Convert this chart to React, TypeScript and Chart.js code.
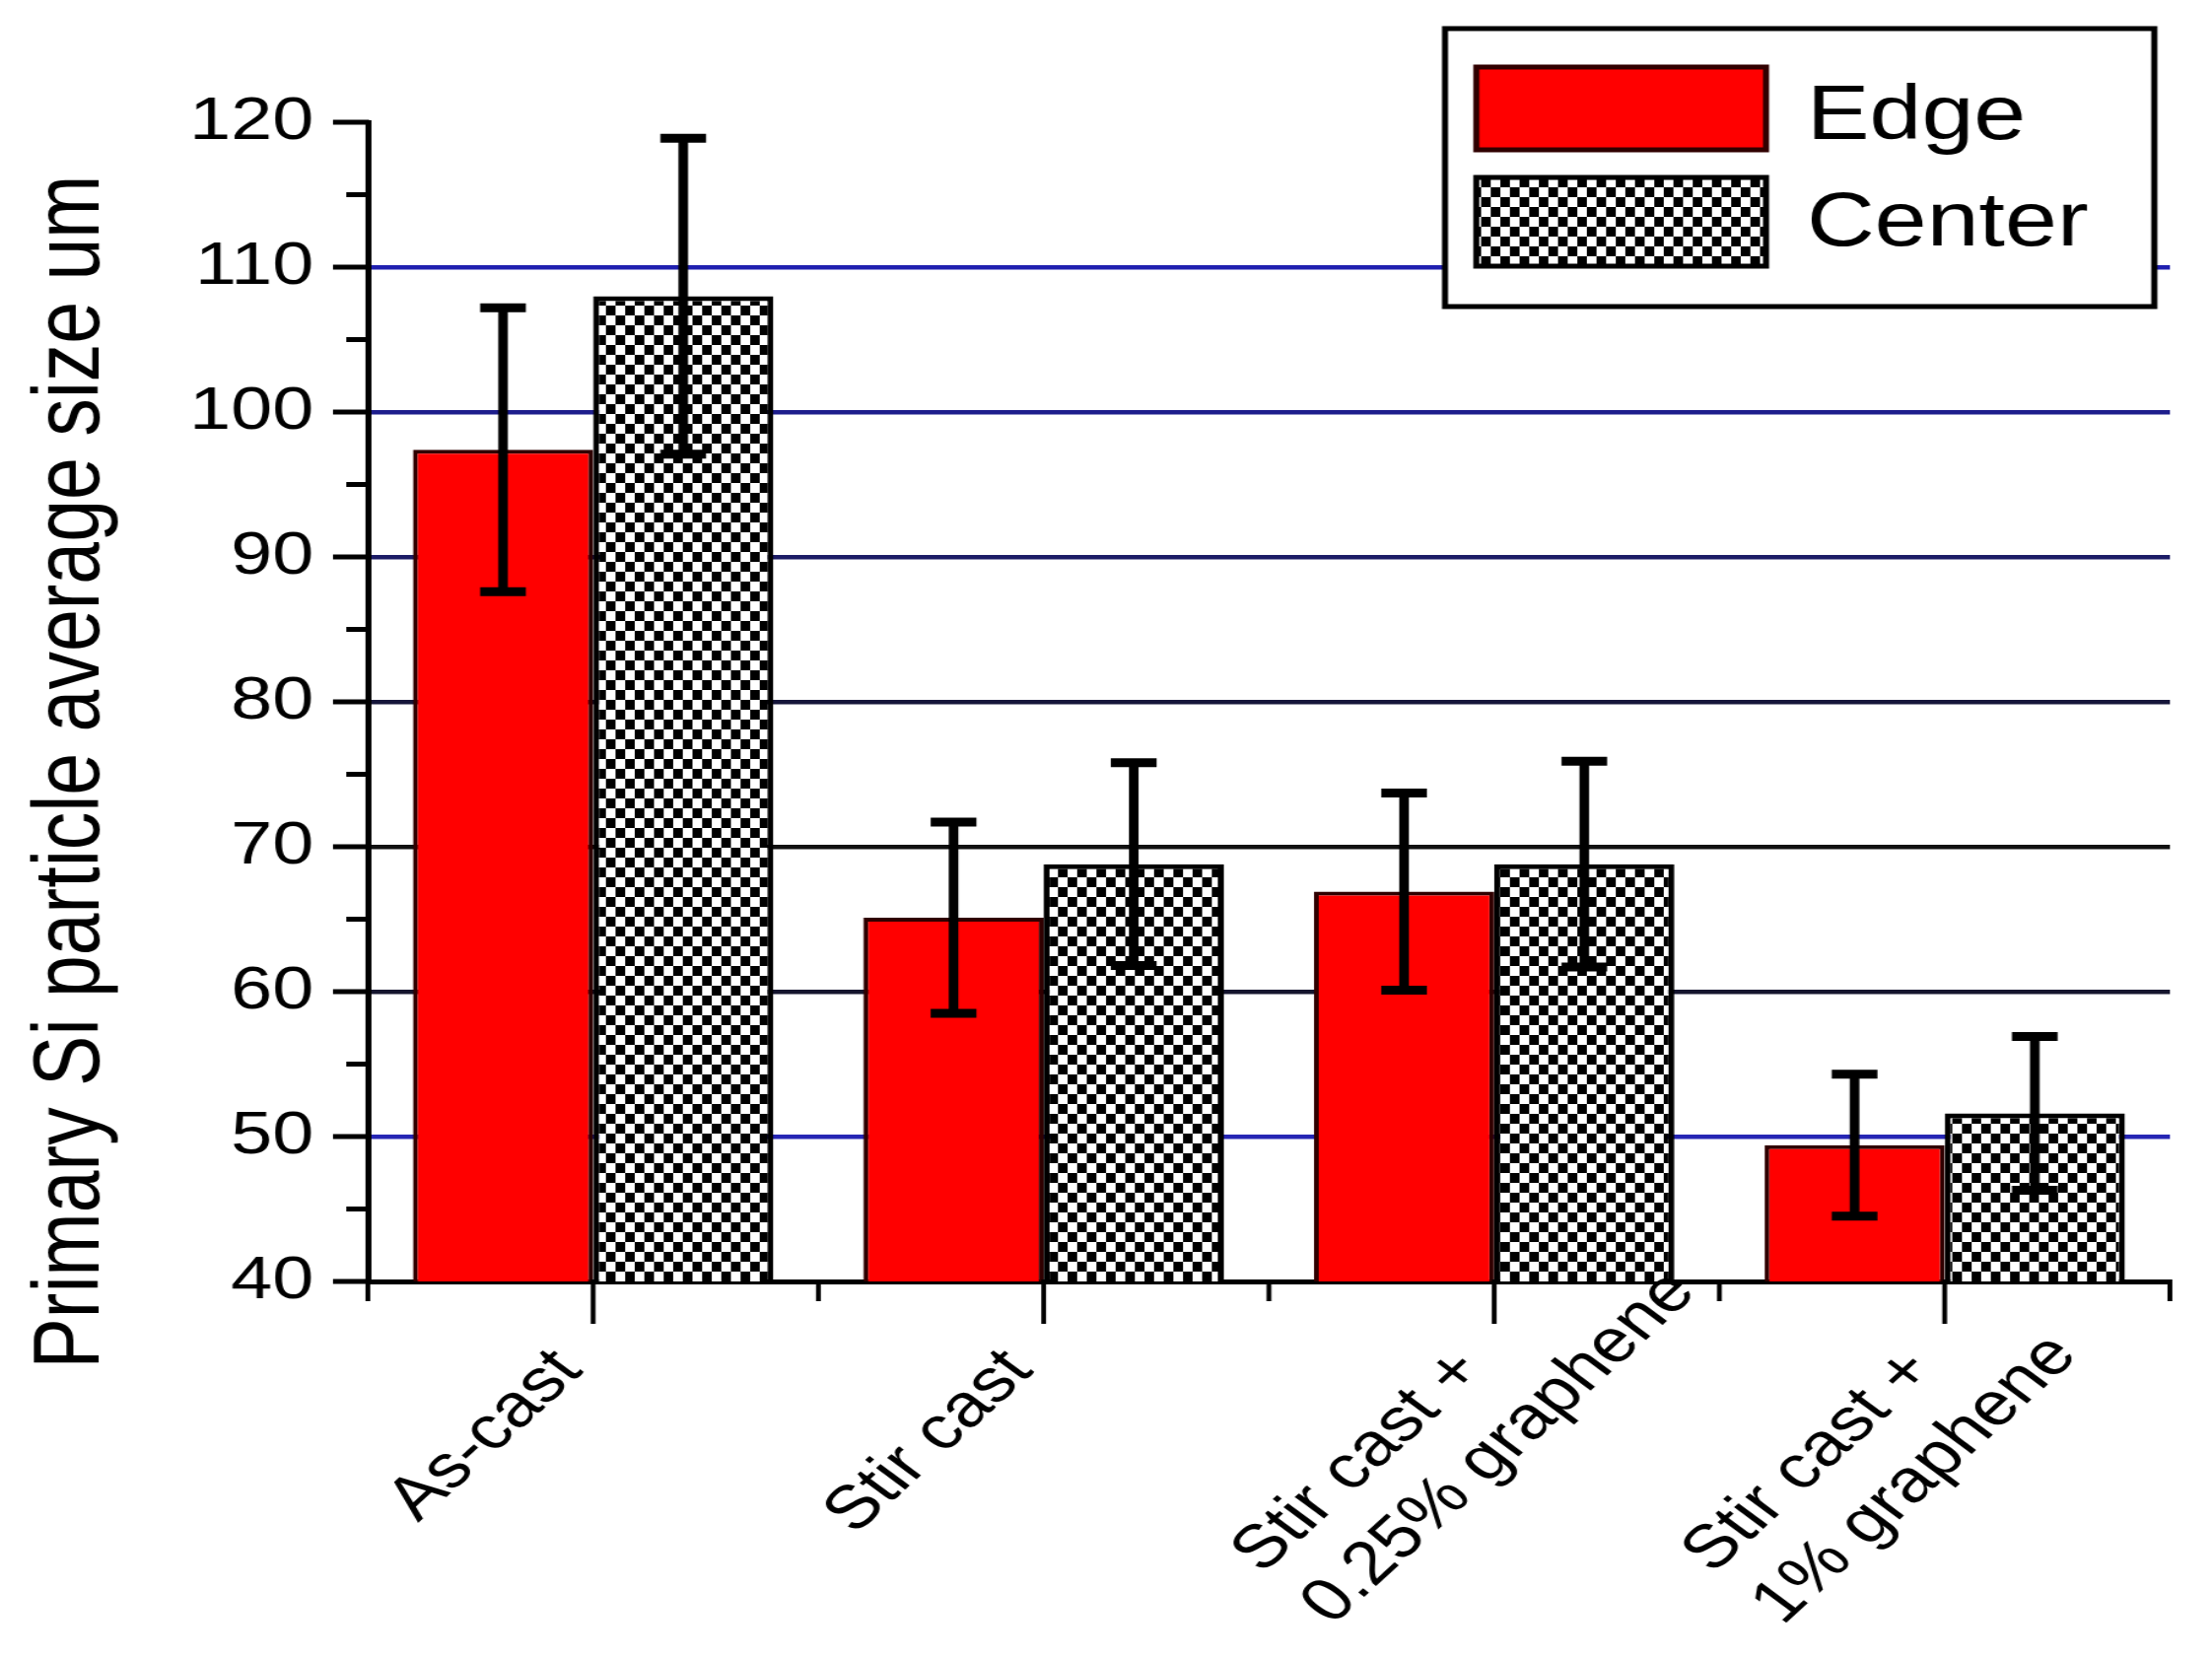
import { useEffect, useRef } from "react"
import { Chart, registerables, type Plugin } from "chart.js"

Chart.register(...registerables)

const categories = [["As-cast"], ["Stir cast"], ["Stir cast +", "0.25% graphene"], ["Stir cast +", "1% graphene"]]
const edgeValues = [97.4, 65.1, 66.9, 49.4]
const edgeErrors = [9.8, 6.6, 6.8, 4.9]
const centerValues = [108.0, 68.8, 68.8, 51.6]
const centerErrors = [10.9, 7.0, 7.1, 5.3]
const yTicks = [40, 50, 60, 70, 80, 90, 100, 110, 120]
const yTitle = "Primary Si particle average size um"

const FONT = "'Liberation Sans', Arial, Helvetica, sans-serif"

// canvas is drawn narrower and stretched by css, like the source figure
const W = 1840
const H = 1682
const LABEL_ANGLE = (48 * Math.PI) / 180

const gridColors: Record<number, string> = {
  50: "#2626b4",
  60: "#15152e",
  70: "#111111",
  80: "#16163a",
  90: "#1c1c66",
  100: "#1e1e8c",
  110: "#2020b0",
}

function checker(): CanvasPattern | string {
  const c = document.createElement("canvas")
  c.width = 16
  c.height = 20
  const g = c.getContext("2d")
  if (!g) return "#888"
  g.fillStyle = "#fff"
  g.fillRect(0, 0, 16, 20)
  g.fillStyle = "#000"
  g.fillRect(0, 0, 8, 10)
  g.fillRect(8, 10, 8, 10)
  return g.createPattern(c, "repeat") || "#888"
}

const decorations: Plugin<"bar"> = {
  id: "decorations",
  afterDatasetsDraw(chart) {
    const { ctx, chartArea } = chart
    const x = chart.scales.x
    const y = chart.scales.y
    const errs = [edgeErrors, centerErrors]

    const line = (x1: number, y1: number, x2: number, y2: number) => {
      ctx.beginPath()
      ctx.moveTo(x1, y1)
      ctx.lineTo(x2, y2)
      ctx.stroke()
    }

    ctx.save()
    ctx.strokeStyle = "#000"
    ctx.fillStyle = "#000"

    // error bars
    chart.data.datasets.forEach((ds, di) => {
      const meta = chart.getDatasetMeta(di)
      meta.data.forEach((bar, j) => {
        const v = ds.data[j] as number
        const e = errs[di][j]
        const top = y.getPixelForValue(v + e)
        const bot = y.getPixelForValue(v - e)
        ctx.lineWidth = 8
        line(bar.x, top, bar.x, bot)
        ctx.lineWidth = 9
        line(bar.x - 19, top, bar.x + 19, top)
        line(bar.x - 19, bot, bar.x + 19, bot)
      })
    })

    // y ticks, major and minor
    ctx.lineWidth = 5
    for (let v = yTicks[0]; v <= yTicks[yTicks.length - 1]; v += 5) {
      const py = y.getPixelForValue(v)
      const len = v % 10 === 0 ? 29 : 18
      line(chartArea.left - len, py, chartArea.left + 1, py)
    }

    // x ticks: long at categories, short at boundaries
    ctx.lineWidth = 4
    const step = x.getPixelForValue(1) - x.getPixelForValue(0)
    categories.forEach((_, i) => {
      const px = x.getPixelForValue(i)
      line(px, chartArea.bottom - 2, px, chartArea.bottom + 43)
      line(px - step / 2, chartArea.bottom - 2, px - step / 2, chartArea.bottom + 20)
    })
    line(chartArea.right, chartArea.bottom - 2, chartArea.right, chartArea.bottom + 20)

    // rotated category labels, left aligned lines
    ctx.font = `62px ${FONT}`
    ctx.textAlign = "left"
    ctx.textBaseline = "middle"
    categories.forEach((lines, i) => {
      const px = x.getPixelForValue(i)
      ctx.save()
      ctx.translate(px - 20, chartArea.bottom + 80)
      ctx.rotate(-LABEL_ANGLE)
      const w0 = ctx.measureText(lines[0]).width
      lines.forEach((t, k) => ctx.fillText(t, -w0, k * 78))
      ctx.restore()
    })

    // y axis title
    ctx.save()
    ctx.translate(61, 783)
    ctx.rotate(-Math.PI / 2)
    ctx.font = `77px ${FONT}`
    ctx.textAlign = "center"
    ctx.textBaseline = "middle"
    ctx.fillText(yTitle, 0, 0)
    ctx.restore()

    // legend
    const box = { l: 1202, t: 29, r: 1792, b: 311 }
    ctx.fillStyle = "#fff"
    ctx.fillRect(box.l, box.t, box.r - box.l, box.b - box.t)
    ctx.lineWidth = 5
    ctx.strokeStyle = "#000"
    ctx.strokeRect(box.l, box.t, box.r - box.l, box.b - box.t)
    const rows = [
      { y0: 68, y1: 152, base: 141 },
      { y0: 180, y1: 270, base: 249 },
    ]
    ctx.font = `78px ${FONT}`
    ctx.textAlign = "left"
    ctx.textBaseline = "alphabetic"
    chart.data.datasets.forEach((ds, i) => {
      const r = rows[i]
      ctx.fillStyle = ds.backgroundColor as any
      ctx.fillRect(1228, r.y0, 241, r.y1 - r.y0)
      ctx.strokeStyle = ds.borderColor as string
      ctx.lineWidth = 5
      ctx.strokeRect(1228, r.y0, 241, r.y1 - r.y0)
      ctx.fillStyle = "#000"
      ctx.fillText(ds.label as string, 1503, r.base)
    })

    ctx.restore()
  },
}

export default function App() {
  const chartRef = useRef<HTMLCanvasElement>(null)
  const chartInstance = useRef<Chart | null>(null)

  useEffect(() => {
    document.body.style.margin = "0"
    if (!chartRef.current) return
    if (chartInstance.current) chartInstance.current.destroy()
    const ctx = chartRef.current.getContext("2d")
    if (!ctx) return

    chartInstance.current = new Chart(ctx, {
      type: "bar",
      data: {
        labels: categories,
        datasets: [
          {
            label: "Edge",
            data: edgeValues,
            backgroundColor: "#ff0000",
            borderColor: "#300000",
            borderWidth: 4,
            barPercentage: 1,
            categoryPercentage: 0.8,
          },
          {
            label: "Center",
            data: centerValues,
            backgroundColor: checker() as any,
            borderColor: "#000000",
            borderWidth: 5,
            barPercentage: 1,
            categoryPercentage: 0.8,
          },
        ],
      },
      options: {
        animation: false,
        responsive: false,
        devicePixelRatio: 1,
        layout: { padding: { top: 124, right: 35, left: 0, bottom: 0 } },
        plugins: { legend: { display: false }, tooltip: { enabled: false } },
        scales: {
          x: {
            grid: { display: false },
            border: { display: true, color: "#000", width: 5 },
            ticks: { display: false },
            afterFit: (s) => {
              s.height = H - 1300
            },
          },
          y: {
            min: yTicks[0],
            max: yTicks[yTicks.length - 1],
            afterBuildTicks: (s) => {
              s.ticks = yTicks.map((v) => ({ value: v }))
            },
            grid: {
              drawTicks: false,
              lineWidth: 4.5,
              color: (c) => gridColors[c.tick?.value as number] || "rgba(0,0,0,0)",
            },
            border: { display: true, color: "#000", width: 5 },
            ticks: { font: { size: 62, family: FONT }, color: "#000", padding: 45 },
            afterFit: (s) => {
              s.width = 306
            },
          },
        },
      },
      plugins: [decorations],
    })

    return () => {
      if (chartInstance.current) {
        chartInstance.current.destroy()
        chartInstance.current = null
      }
    }
  }, [])

  return (
    <div style={{ width: 2244, height: H, background: "#fff" }}>
      <canvas ref={chartRef} width={W} height={H} style={{ width: "2244px", height: `${H}px`, display: "block" }} />
    </div>
  )
}
